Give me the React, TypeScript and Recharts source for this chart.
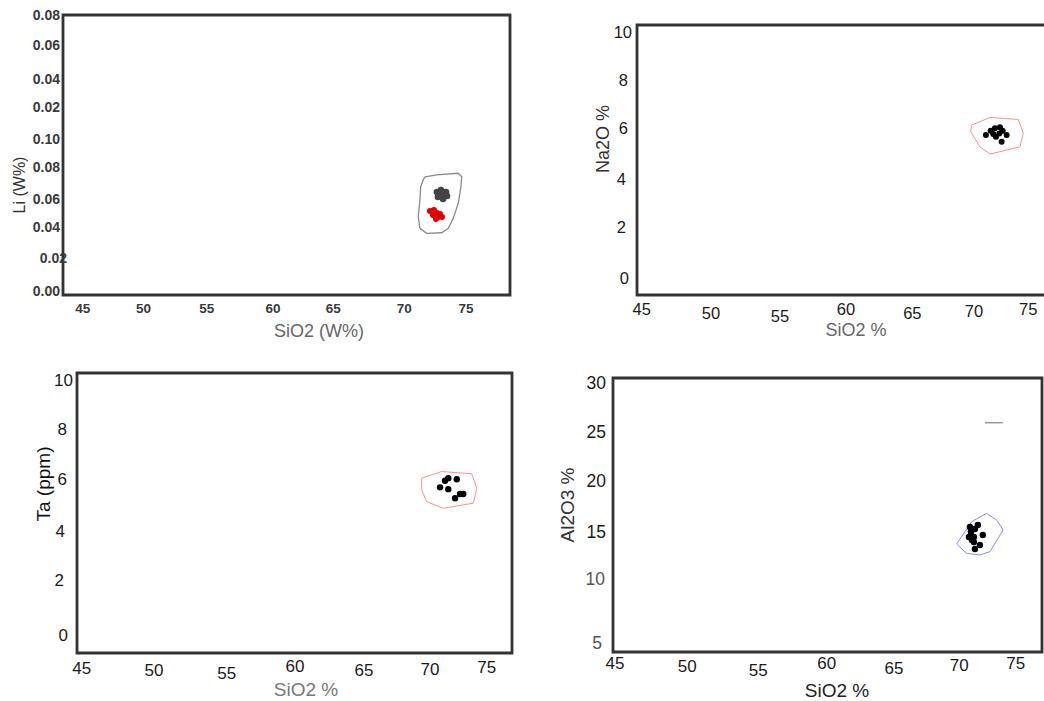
import React from 'react';
import { ScatterChart, Scatter, XAxis, YAxis, ReferenceArea } from 'recharts';

// ---------------- data ----------------
type Pt = { x: number; y: number };

const sio2Ticks = [45, 50, 55, 60, 65, 70, 75];
const sio2TickLabels = ['45', '50', '55', '60', '65', '70', '75'];

// Panel 1: Li (W%) vs SiO2 (W%)
const liTicks = [0, 0.02, 0.04, 0.06, 0.08, 0.1, 0.12, 0.14, 0.16, 0.18];
const liTickLabels = ['0.00', '0.02', '0.04', '0.06', '0.08', '0.10', '0.02', '0.04', '0.06', '0.08'];
const liOutline: Pt[] = [
  { x: 71.79, y: 0.0745 }, { x: 72.7, y: 0.0757 }, { x: 74.39, y: 0.0768 }, { x: 74.66, y: 0.0745 },
  { x: 74.6, y: 0.068 }, { x: 74.39, y: 0.0572 }, { x: 74.0, y: 0.0474 }, { x: 73.61, y: 0.0409 },
  { x: 73.09, y: 0.038 }, { x: 71.92, y: 0.0376 }, { x: 71.39, y: 0.0409 }, { x: 71.26, y: 0.0485 },
  { x: 71.39, y: 0.0593 }, { x: 71.45, y: 0.068 }, { x: 71.65, y: 0.0724 }, { x: 71.79, y: 0.0745 },
];
const liGrayGroup: Pt[] = [
  { x: 72.72, y: 0.0646 }, { x: 73.04, y: 0.0659 }, { x: 73.43, y: 0.0646 }, { x: 73.51, y: 0.062 },
  { x: 73.2, y: 0.06 }, { x: 72.8, y: 0.0613 }, { x: 73.12, y: 0.0626 }, { x: 73.28, y: 0.0639 },
];
const liRedGroup: Pt[] = [
  { x: 72.18, y: 0.0522 }, { x: 72.49, y: 0.0528 }, { x: 72.72, y: 0.0509 }, { x: 72.41, y: 0.0496 },
  { x: 72.8, y: 0.0483 }, { x: 73.12, y: 0.0483 }, { x: 72.65, y: 0.047 }, { x: 72.96, y: 0.0502 },
];

// Panel 2: Na2O % vs SiO2 %
const naTicks = [0, 2, 4, 6, 8, 10];
const naTickLabels = ['0', '2', '4', '6', '8', '10'];
const naOutline: Pt[] = [
  { x: 70.61, y: 6.23 }, { x: 72.03, y: 6.54 }, { x: 74.22, y: 6.46 }, { x: 74.61, y: 5.89 },
  { x: 74.35, y: 5.35 }, { x: 72.03, y: 5.05 }, { x: 71.25, y: 5.35 }, { x: 70.53, y: 5.96 },
  { x: 70.61, y: 6.23 },
];
const naDots: Pt[] = [
  { x: 71.71, y: 5.83 }, { x: 72.08, y: 6.0 }, { x: 72.41, y: 6.1 }, { x: 72.8, y: 6.14 },
  { x: 73.01, y: 6.0 }, { x: 72.49, y: 5.76 }, { x: 72.93, y: 5.55 }, { x: 73.32, y: 5.83 },
  { x: 72.75, y: 5.89 }, { x: 72.28, y: 5.87 },
];

// Panel 3: Ta (ppm) vs SiO2 %
const taTicks = [0, 2, 4, 6, 8, 10];
const taTickLabels = ['0', '2', '4', '6', '8', '10'];
const taOutline: Pt[] = [
  { x: 70.18, y: 6.18 }, { x: 71.66, y: 6.44 }, { x: 73.89, y: 6.35 }, { x: 74.26, y: 5.79 },
  { x: 74.01, y: 5.2 }, { x: 71.78, y: 5.0 }, { x: 70.55, y: 5.26 }, { x: 70.18, y: 5.72 },
  { x: 70.18, y: 6.18 },
];
const taDots: Pt[] = [
  { x: 71.54, y: 5.82 }, { x: 71.91, y: 6.08 }, { x: 72.15, y: 6.18 }, { x: 72.78, y: 6.14 },
  { x: 72.15, y: 5.75 }, { x: 72.65, y: 5.39 }, { x: 73.02, y: 5.56 }, { x: 73.26, y: 5.56 },
];

// Panel 4: Al2O3 % vs SiO2 %
const alTicks = [5, 10, 15, 20, 25, 30];
const alTickLabels = ['5', '10', '15', '20', '25', '30'];
const alOutline: Pt[] = [
  { x: 70.58, y: 13.6 }, { x: 71.7, y: 15.88 }, { x: 72.82, y: 16.73 }, { x: 73.57, y: 16.05 },
  { x: 74.06, y: 15.03 }, { x: 73.07, y: 12.82 }, { x: 72.32, y: 12.48 }, { x: 71.32, y: 12.65 },
  { x: 70.58, y: 13.6 },
];
const alDots: Pt[] = [
  { x: 71.57, y: 15.34 }, { x: 71.95, y: 15.13 }, { x: 72.17, y: 15.54 }, { x: 71.65, y: 14.83 },
  { x: 71.5, y: 14.32 }, { x: 71.87, y: 14.32 }, { x: 72.54, y: 14.52 }, { x: 71.87, y: 13.81 },
  { x: 72.32, y: 13.5 }, { x: 71.95, y: 13.09 }, { x: 71.72, y: 14.01 },
];
const alSegment: Pt[] = [{ x: 72.7, y: 25.98 }, { x: 74.04, y: 25.98 }];

// ---------------- layout / style ----------------
const FONT = '"Liberation Sans", Arial, sans-serif';
const MT = 10, MR = 12, YW = 70, XH = 50;

interface SeriesDef { data: Pt[]; kind: 'dots' | 'line'; color: string; r?: number; width?: number }
interface TitleDef { text: string; cx: number; cy: number; size: number; color: string; weight?: number | string; rotate?: boolean }
interface PanelDef {
  box: { left: number; top: number; width: number; height: number };
  xDomain: [number, number]; yDomain: [number, number];
  xTicks: number[]; xLabels: string[]; xOff: number[][]; xFont: number; xFill: string; xWeight: number | string;
  yTicks: number[]; yLabels: string[]; yOff: number[][]; yFont: number; yFills: string[]; yWeight: number | string;
  series: SeriesDef[];
  titles: TitleDef[];
}

const panels: PanelDef[] = [
  {
    box: { left: 63, top: 15, width: 447, height: 280 },
    xDomain: [43.46, 78.44], yDomain: [-0.0026, 0.18],
    xTicks: sio2Ticks, xLabels: sio2TickLabels,
    xOff: [[0, 13], [-3, 13], [-3.6, 13], [-1.4, 13], [-5, 13], [2, 13], [0, 13]],
    xFont: 13.5, xFill: '#3a3a3a', xWeight: 'bold',
    yTicks: liTicks, yLabels: liTickLabels,
    yOff: [[-3, 0], [4, -2.3], [-3, -2.7], [-3, 0], [-3, -1.3], [-3, 1.3], [-3, 0], [-3, 2.7], [-3, -0.7], [-3, 0]],
    yFont: 14, yFills: Array(10).fill('#3a3a3a'), yWeight: 'bold',
    series: [
      { data: liOutline, kind: 'line', color: '#8a8a8a', width: 1.3 },
      { data: liGrayGroup, kind: 'dots', color: '#444', r: 3.3 },
      { data: liRedGroup, kind: 'dots', color: '#e00000', r: 3 },
    ],
    titles: [
      { text: 'SiO2 (W%)', cx: 319, cy: 331, size: 18, color: '#666' },
      { text: 'Li (W%)', cx: 20, cy: 185, size: 16, color: '#333', rotate: true },
    ],
  },
  {
    box: { left: 637, top: 25, width: 423, height: 270 },
    xDomain: [44.64, 77.46], yDomain: [-0.68, 10.3],
    xTicks: sio2Ticks, xLabels: sio2TickLabels,
    xOff: [[0, 14], [4.9, 17.5], [9.5, 20.5], [11, 14], [12.9, 18.3], [10.1, 15.8], [0, 14]],
    xFont: 16.5, xFill: '#1a1a1a', xWeight: 'normal',
    yTicks: naTicks, yLabels: naTickLabels,
    yOff: [[-8, 0], [-11, -2.4], [-11, -0.9], [-9, -3], [-9, -1.1], [-5, 0]],
    yFont: 16.5, yFills: Array(6).fill('#1a1a1a'), yWeight: 'normal',
    series: [
      { data: naOutline, kind: 'line', color: '#ff8f8f', width: 1 },
      { data: naDots, kind: 'dots', color: '#000', r: 3 },
    ],
    titles: [
      { text: 'SiO2 %', cx: 856, cy: 330, size: 18, color: '#666' },
      { text: 'Na2O %', cx: 603, cy: 139, size: 18, color: '#333', rotate: true },
    ],
  },
  {
    box: { left: 77, top: 373, width: 435, height: 280 },
    xDomain: [44.65, 76.87], yDomain: [-0.67, 10.3],
    xTicks: sio2Ticks, xLabels: sio2TickLabels,
    xOff: [[0, 15.3], [4.8, 17.7], [10, 20.3], [10.8, 13.7], [12.3, 17], [10.8, 16], [0, 14.7]],
    xFont: 17, xFill: '#1a1a1a', xWeight: 'normal',
    yTicks: taTicks, yLabels: taTickLabels,
    yOff: [[-9, 0], [-13, -3.9], [-12, -2.2], [-10, -3.5], [-10, -2.5], [-4, 0]],
    yFont: 17, yFills: Array(6).fill('#1a1a1a'), yWeight: 'normal',
    series: [
      { data: taOutline, kind: 'line', color: '#ff8f8f', width: 1 },
      { data: taDots, kind: 'dots', color: '#000', r: 3.2 },
    ],
    titles: [
      { text: 'SiO2 %', cx: 306, cy: 689, size: 19, color: '#777' },
      { text: 'Ta (ppm)', cx: 43, cy: 484, size: 19, color: '#111', rotate: true },
    ],
  },
  {
    box: { left: 613, top: 378, width: 429, height: 274 },
    xDomain: [44.85, 76.97], yDomain: [2.58, 30.54],
    xTicks: sio2Ticks, xLabels: sio2TickLabels,
    xOff: [[0, 11.3], [5.5, 14.7], [9.7, 18], [11.3, 11.3], [11.8, 16.3], [10.3, 13], [0, 11.3]],
    xFont: 17, xFill: '#1a1a1a', xWeight: 'normal',
    yTicks: alTicks, yLabels: alTickLabels,
    yOff: [[-11, 15], [-8, 0], [-7, 1.4], [-7, -0.6], [-7, -0.6], [-7, 0]],
    yFont: 17.5, yFills: ['#555', '#555', '#1a1a1a', '#1a1a1a', '#1a1a1a', '#1a1a1a'], yWeight: 'normal',
    series: [
      { data: alOutline, kind: 'line', color: '#8a8aff', width: 1 },
      { data: alSegment, kind: 'line', color: '#999', width: 1.5 },
      { data: alDots, kind: 'dots', color: '#000', r: 3.2 },
    ],
    titles: [
      { text: 'SiO2 %', cx: 837, cy: 690, size: 19, color: '#222' },
      { text: 'Al2O3 %', cx: 567, cy: 505, size: 19, color: '#333', rotate: true },
    ],
  },
];

const noShape = () => <g />;

function Panel({ p }: { p: PanelDef }) {
  const { left, top, width, height } = p.box;
  const W = YW + width + MR;
  const H = MT + height + XH;
  const axisY = MT + height;
  const axisX = YW;

  const XT = (props: any) => {
    const i = p.xTicks.indexOf(props.payload.value);
    if (i < 0) return <g />;
    const [dx, dy] = p.xOff[i] || [0, 0];
    return (
      <text x={props.x + dx} y={axisY + dy} textAnchor="middle" dominantBaseline="central"
        fontFamily={FONT} fontSize={p.xFont} fill={p.xFill} fontWeight={p.xWeight}>
        {p.xLabels[i]}
      </text>
    );
  };
  const YT = (props: any) => {
    const i = p.yTicks.indexOf(props.payload.value);
    if (i < 0) return <g />;
    const [dx, dy] = p.yOff[i] || [0, 0];
    return (
      <text x={axisX + dx} y={props.y + dy} textAnchor="end" dominantBaseline="central"
        fontFamily={FONT} fontSize={p.yFont} fill={p.yFills[i]} fontWeight={p.yWeight}>
        {p.yLabels[i]}
      </text>
    );
  };

  return (
    <div style={{ position: 'absolute', left: left - YW, top: top - MT }}>
      <ScatterChart width={W} height={H} margin={{ top: MT, right: MR, bottom: 0, left: 0 }}>
        <XAxis type="number" dataKey="x" domain={p.xDomain} ticks={p.xTicks} interval={0} tick={XT}
          tickLine={false} axisLine={false} height={XH} allowDataOverflow tickSize={0} tickMargin={0} />
        <YAxis type="number" dataKey="y" domain={p.yDomain} ticks={p.yTicks} interval={0} tick={YT}
          tickLine={false} axisLine={false} width={YW} allowDataOverflow tickSize={0} tickMargin={0} />
        {p.series.map((s, k) =>
          s.kind === 'line' ? (
            <Scatter key={k} data={s.data} isAnimationActive={false} shape={noShape}
              line={{ stroke: s.color, strokeWidth: s.width || 1 }} fill="none" />
          ) : (
            <Scatter key={k} data={s.data} isAnimationActive={false}
              shape={(props: any) => <circle cx={props.cx} cy={props.cy} r={s.r || 3} fill={s.color} />} />
          )
        )}
        <ReferenceArea x1={p.xDomain[0]} x2={p.xDomain[1]} y1={p.yDomain[0]} y2={p.yDomain[1]}
          fill="none" fillOpacity={0} stroke="#333" strokeWidth={2.8} ifOverflow="visible" />
      </ScatterChart>
    </div>
  );
}

export default function App() {
  return (
    <div style={{ position: 'fixed', left: 0, top: 0, width: 1044, height: 701, overflow: 'hidden', background: '#fff' }}>
      {panels.map((p, i) => (
        <Panel key={i} p={p} />
      ))}
      {panels.flatMap((p, i) =>
        p.titles.map((t, j) => (
          <div key={`${i}-${j}`} style={{
            position: 'absolute', left: t.cx, top: t.cy, whiteSpace: 'nowrap', lineHeight: 1,
            fontFamily: FONT, fontSize: t.size, color: t.color, fontWeight: t.weight || 'normal',
            transform: `translate(-50%, -50%)${t.rotate ? ' rotate(-90deg)' : ''}`,
          }}>
            {t.text}
          </div>
        ))
      )}
    </div>
  );
}
